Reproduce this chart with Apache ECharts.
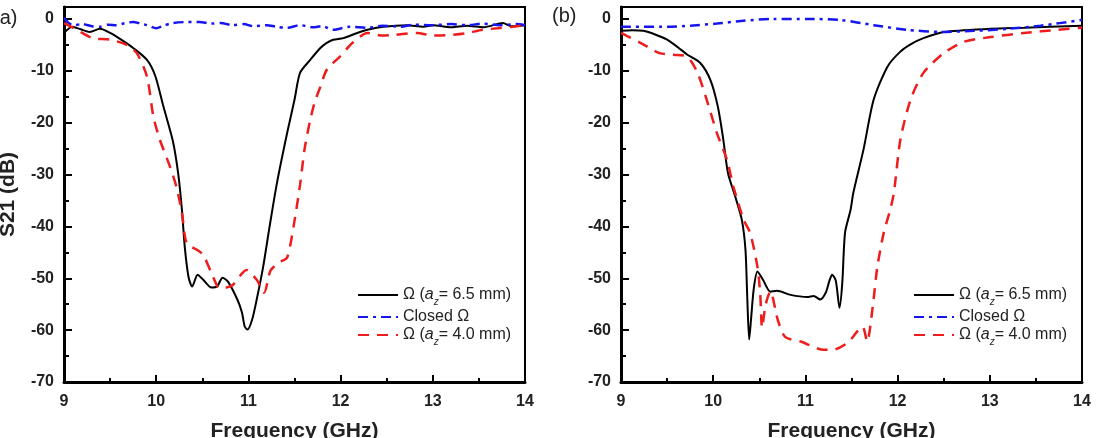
<!DOCTYPE html>
<html>
<head>
<meta charset="utf-8">
<script src="https://cdn.jsdelivr.net/npm/echarts@6/dist/echarts.min.js"></script>
<style>
  html, body { margin: 0; padding: 0; background: #fff; }
  #main { width: 1098px; height: 438px; }
</style>
</head>
<body>
<div id="main"></div>
<script type="text/javascript">
// series names
var nameA65 = 'Ω (a_z= 6.5 mm)',
    nameClosed = 'Closed Ω',
    nameA40 = 'Ω (a_z= 4.0 mm)';

// panel (a): [frequency GHz, S21 dB]
var aOmega65 = [[9.0,-2.7],[9.09,-1.5],[9.18,-2.0],[9.28,-2.5],[9.39,-1.9],[9.5,-2.7],[9.62,-4.0],[9.75,-5.6],[9.9,-7.9],[9.99,-11],[10.08,-17],[10.18,-23.5],[10.24,-30],[10.28,-37],[10.31,-44],[10.35,-49.7],[10.39,-51.6],[10.45,-49.3],[10.51,-50.3],[10.6,-51.8],[10.66,-51.6],[10.72,-49.9],[10.78,-50.7],[10.88,-54.1],[10.93,-56.6],[10.96,-59.3],[10.99,-59.9],[11.04,-58],[11.09,-54.1],[11.16,-47.8],[11.23,-40],[11.31,-31.6],[11.42,-22],[11.5,-15.6],[11.56,-10.4],[11.67,-7.9],[11.78,-5.6],[11.85,-4.6],[11.92,-4],[12.03,-3.7],[12.18,-2.7],[12.29,-2.1],[12.46,-1.5],[12.72,-1.2],[12.9,-1.5],[13.0,-1.2],[13.2,-1.6],[13.37,-1.3],[13.55,-1.6],[13.76,-0.8],[13.85,-1.4],[14,-1.2]];
var aClosed = [[9,0.2],[9.05,-0.8],[9.1,-1.2],[9.2,-1.0],[9.3,-1.4],[9.39,-1.5],[9.48,-1.1],[9.57,-1.2],[9.66,-0.8],[9.75,-0.6],[9.83,-0.9],[9.9,-1.2],[10.0,-1.8],[10.08,-1.3],[10.18,-0.8],[10.33,-0.6],[10.47,-0.6],[10.6,-0.9],[10.7,-0.8],[10.83,-1.2],[10.95,-1.0],[11.05,-1.4],[11.2,-1.2],[11.3,-1.5],[11.42,-1.7],[11.56,-1.2],[11.7,-1.6],[11.8,-1.4],[11.92,-2.1],[12.1,-1.5],[12.3,-1.7],[12.45,-1.3],[12.64,-1.5],[12.8,-1.1],[13,-1.2],[13.2,-1.0],[13.37,-1.2],[13.55,-0.9],[13.73,-1.2],[13.9,-1.0],[14,-1.2]];
var aOmega40 = [[9,-0.8],[9.14,-2.1],[9.31,-3.7],[9.5,-4.0],[9.68,-5.0],[9.79,-6.6],[9.9,-11.1],[9.97,-18.9],[10.04,-23.3],[10.15,-28.5],[10.22,-32.4],[10.28,-37.5],[10.33,-43.2],[10.44,-44.5],[10.51,-45.5],[10.6,-49],[10.69,-52],[10.76,-51.8],[10.83,-51.3],[10.98,-48.4],[11.09,-50.3],[11.17,-52.8],[11.24,-48.5],[11.33,-47],[11.42,-46],[11.49,-40],[11.56,-32],[11.61,-25],[11.67,-19.5],[11.72,-16],[11.78,-13.1],[11.85,-9.8],[11.99,-7.3],[12.13,-4.6],[12.29,-2.7],[12.45,-3.2],[12.57,-3.1],[12.83,-2.7],[13.0,-3.2],[13.19,-3.1],[13.35,-2.8],[13.54,-2.1],[13.7,-1.8],[13.87,-1.5],[14,-1.2]];

// panel (b)
var bOmega65 = [[9,-2.3],[9.12,-2.2],[9.24,-2.3],[9.37,-3.0],[9.5,-4.0],[9.62,-5.5],[9.72,-6.9],[9.86,-8.5],[9.97,-11.8],[10.05,-16.9],[10.11,-23.3],[10.16,-29.7],[10.24,-34.3],[10.31,-38.7],[10.35,-44.5],[10.37,-54],[10.39,-61.8],[10.41,-58],[10.44,-52],[10.48,-48.7],[10.54,-50.3],[10.62,-52.6],[10.69,-52.4],[10.84,-53.2],[11.02,-53.6],[11.09,-53.4],[11.16,-54.1],[11.22,-52.8],[11.26,-50.5],[11.29,-49.3],[11.33,-50.5],[11.37,-55.7],[11.4,-50.9],[11.43,-41.2],[11.49,-36.8],[11.52,-33.5],[11.63,-25.2],[11.74,-15.6],[11.89,-9.2],[12.03,-6.3],[12.15,-4.8],[12.28,-3.7],[12.5,-2.5],[13.01,-1.9],[13.37,-1.7],[14,-1.3]];
var bClosed = [[9,-1.5],[9.5,-1.5],[9.75,-1.3],[10.04,-0.9],[10.3,-0.4],[10.65,0],[11.02,0],[11.38,-0.2],[11.74,-1.2],[12.1,-2.1],[12.47,-2.5],[12.83,-2.3],[13.2,-1.9],[13.55,-1.3],[14,-0.2]];
var bOmega40 = [[9,-2.7],[9.21,-4.6],[9.42,-6.6],[9.57,-6.9],[9.72,-7.3],[9.83,-10.4],[9.93,-15.6],[10.04,-22],[10.15,-27.2],[10.22,-32.4],[10.33,-38.7],[10.4,-41.2],[10.48,-47.8],[10.51,-53],[10.53,-59.5],[10.57,-55],[10.62,-52.5],[10.7,-58],[10.78,-61.3],[10.95,-62.2],[11.2,-63.8],[11.3,-63.8],[11.46,-62.4],[11.56,-60.3],[11.62,-59.3],[11.67,-62.2],[11.73,-55.5],[11.78,-47.8],[11.85,-41.2],[11.92,-36.8],[11.96,-33.5],[12.03,-23.3],[12.14,-15.6],[12.28,-10.4],[12.5,-6.6],[12.72,-4.4],[13.01,-3.5],[13.37,-2.7],[13.74,-2.1],[14,-1.7]];

var xTicks = { min: 9, max: 14, interval: 1 };
var yTicks = { min: -70, max: 2.3, interval: 10 };

var chart = echarts.init(document.getElementById('main'), null, { renderer: 'canvas' });
var FONT = '"Liberation Sans", Arial, sans-serif';

var legendFormatter = function (name) {
    if (name.indexOf('a_z') >= 0) {
        var parts = name.split('a_z');
        return '{t|' + parts[0] + '}{i|a}{s|z}{t|' + parts[1] + '}';
    }
    return '{t|' + name + '}';
};
var legendRich = {
    t: { fontFamily: FONT, fontSize: 16, color: '#222', lineHeight: 24, verticalAlign: 'middle' },
    i: { fontFamily: FONT, fontSize: 16, fontStyle: 'italic', color: '#222', lineHeight: 24, verticalAlign: 'middle' },
    s: { fontFamily: FONT, fontSize: 10, fontStyle: 'italic', color: '#222', lineHeight: 24, verticalAlign: 'bottom' }
};

var makeX = function (gi) {
    return {
        type: 'value', gridIndex: gi, min: xTicks.min, max: xTicks.max, interval: xTicks.interval,
        name: 'Frequency (GHz)', nameLocation: 'middle', nameGap: 39,
        nameTextStyle: { fontFamily: FONT, fontSize: 21, fontWeight: 'bold', color: '#222' },
        axisLine: { onZero: false, lineStyle: { color: '#000', width: 3 } },
        axisTick: { inside: true, length: 7, lineStyle: { color: '#000', width: 2 } },
        minorTick: { show: true, splitNumber: 2, length: 4, lineStyle: { color: '#000', width: 2 } },
        splitLine: { show: false },
        axisLabel: { fontFamily: FONT, fontSize: 16, fontWeight: 'bold', color: '#222', margin: 12 }
    };
};
var makeY = function (gi, withName) {
    return {
        type: 'value', gridIndex: gi, min: yTicks.min, max: yTicks.max, interval: yTicks.interval,
        name: withName ? 'S21 (dB)' : '', nameLocation: 'middle', nameGap: 45,
        nameTextStyle: { fontFamily: FONT, fontSize: 21, fontWeight: 'bold', color: '#222' },
        axisLine: { onZero: false, lineStyle: { color: '#000', width: 3 } },
        axisTick: { inside: true, length: 8, lineStyle: { color: '#000', width: 2 } },
        minorTick: { show: true, splitNumber: 2, length: 5, lineStyle: { color: '#000', width: 2 } },
        splitLine: { show: false },
        axisLabel: {
            fontFamily: FONT, fontSize: 16, fontWeight: 'bold', color: '#222', margin: 10,
            formatter: function (v) { return (Math.abs(v % 10) < 1e-9) ? String(v) : ''; }
        }
    };
};

var styles = {};
styles[nameA65] = { color: '#000000', width: 2, type: 'solid' };
styles[nameClosed] = { color: '#1515f0', width: 2.5, type: [10, 5, 3, 5] };
styles[nameA40] = { color: '#ee1c1c', width: 2.5, type: [11, 8] };

var mkSeries = function (name, data, gi) {
    var st = styles[name];
    return {
        name: name, type: 'line', xAxisIndex: gi, yAxisIndex: gi, data: data,
        showSymbol: false, symbol: 'none', smooth: 0.25, animation: false,
        color: st.color,
        lineStyle: { color: st.color, width: st.width, type: st.type }
    };
};

var mkLegend = function (left) {
    return {
        orient: 'vertical', left: left, top: 282, itemWidth: 40, itemHeight: 14, itemGap: 2,
        data: [nameA65, nameClosed, nameA40], formatter: legendFormatter,
        itemStyle: { color: 'rgba(0,0,0,0)', borderColor: 'rgba(0,0,0,0)', borderWidth: 0, opacity: 0 },
        textStyle: { rich: legendRich }, selectedMode: false
    };
};

var mkGrid = function (left, right) {
    return {
        left: left, right: right, top: 7, bottom: 56, outerBoundsMode: 'none', containLabel: false,
        show: true, borderColor: '#000', borderWidth: 2, backgroundColor: 'transparent'
    };
};

var option = {
    backgroundColor: '#fff',
    animation: false,
    grid: [mkGrid(64, 573), mkGrid(621, 16)],
    xAxis: [makeX(0), makeX(1)],
    yAxis: [makeY(0, true), makeY(1, false)],
    legend: [mkLegend(352), mkLegend(908)],
    graphic: [
        { type: 'text', left: -7, top: 8, style: { text: '(a)', font: '20px ' + FONT, fill: '#222' } },
        { type: 'text', left: 552, top: 6, style: { text: '(b)', font: '20px ' + FONT, fill: '#222' } }
    ],
    series: [
        mkSeries(nameA65, aOmega65, 0),
        mkSeries(nameClosed, aClosed, 0),
        mkSeries(nameA40, aOmega40, 0),
        mkSeries(nameA65, bOmega65, 1),
        mkSeries(nameClosed, bClosed, 1),
        mkSeries(nameA40, bOmega40, 1)
    ]
};
chart.setOption(option);
</script>
</body>
</html>
